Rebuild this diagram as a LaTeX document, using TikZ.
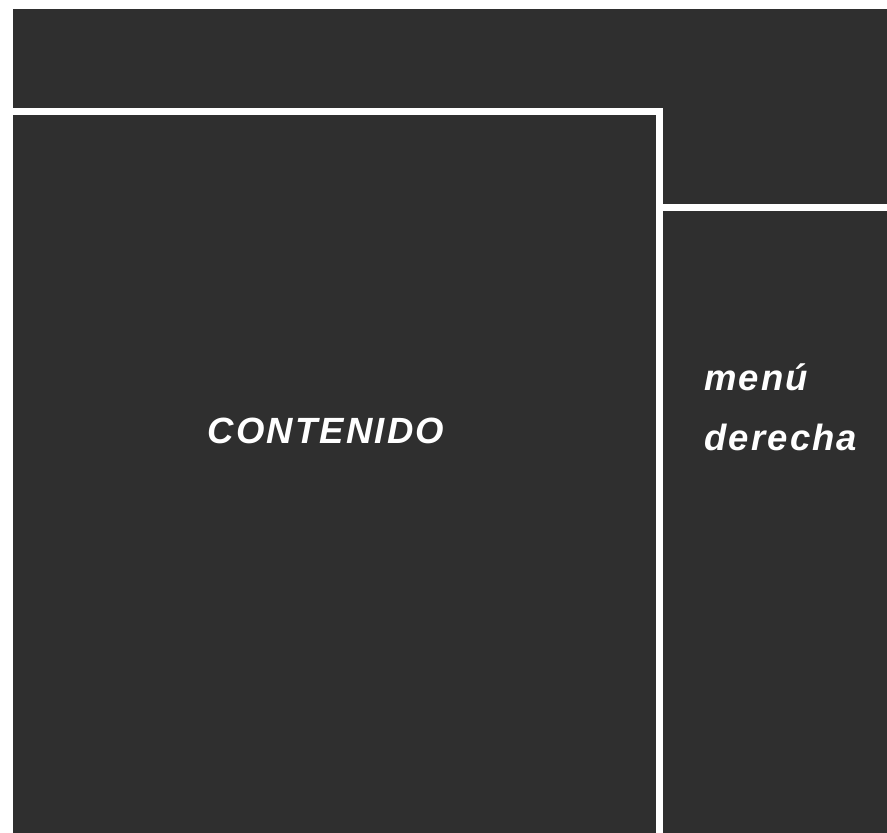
\documentclass[tikz,border=0pt]{standalone}
\usepackage{fontspec}
\setmainfont{Liberation Sans}
\definecolor{panel}{HTML}{2F2F2F}
\tikzset{
  panelbox/.style={fill=panel, draw=none},
  lbl/.style={text=white, font=\fontsize{36.5}{60}\selectfont\bfseries\itshape\addfontfeature{LetterSpace=6}, inner sep=0pt}
}
\begin{document}
\begin{tikzpicture}[x=1pt,y=-1pt]
\fill[white] (0,0) rectangle (887,833);
\useasboundingbox (0,0) rectangle (887,833);
% top strip + right-top block
\path[panelbox] (13,9) rectangle (887,108);
\path[panelbox] (663,9) rectangle (887,204);
% content
\path[panelbox] (13,115) rectangle (656,833);
% right menu
\path[panelbox] (663,211) rectangle (887,833);
\node[lbl, anchor=base] (contenido) at (326,443) {CONTENIDO};
\node[lbl, anchor=base west] (menu) at (704,390) {menú};
\node[lbl, anchor=base west] (derecha) at (704,450) {derecha};
\end{tikzpicture}
\end{document}
